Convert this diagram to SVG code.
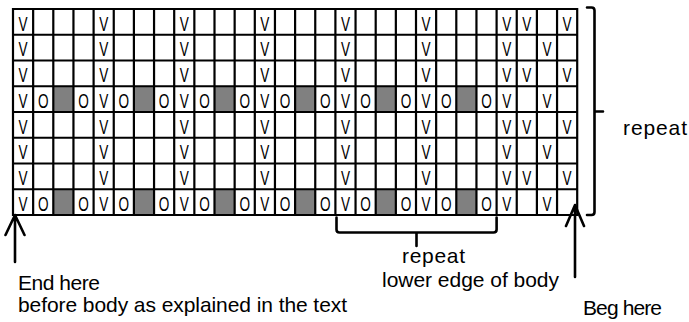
<svg xmlns="http://www.w3.org/2000/svg" width="689" height="322" viewBox="0 0 689 322">
<style>
.bg{fill:#ffffff}
.gray{fill:#808080}
.grid{fill:none;stroke:#000;stroke-width:2.2;stroke-linecap:square}
.cell{font-family:"Liberation Sans",Arial,sans-serif;font-size:20px;fill:#000;text-anchor:middle}
.lbl{font-family:"Liberation Sans",Arial,sans-serif;font-size:21px;fill:#000}
.ln{fill:none;stroke:#000;stroke-width:2.6;stroke-linecap:round;stroke-linejoin:round}
</style>
<rect class="bg" x="0" y="0" width="689" height="322"/>
<g id="chart">
  <g id="shaded-cells">
    <rect class="gray" x="53.3" y="86.25" width="20.15" height="25.75"/>
    <rect class="gray" x="133.9" y="86.25" width="20.15" height="25.75"/>
    <rect class="gray" x="214.5" y="86.25" width="20.15" height="25.75"/>
    <rect class="gray" x="295.1" y="86.25" width="20.15" height="25.75"/>
    <rect class="gray" x="375.7" y="86.25" width="20.15" height="25.75"/>
    <rect class="gray" x="456.3" y="86.25" width="20.15" height="25.75"/>
    <rect class="gray" x="53.3" y="189.25" width="20.15" height="25.75"/>
    <rect class="gray" x="133.9" y="189.25" width="20.15" height="25.75"/>
    <rect class="gray" x="214.5" y="189.25" width="20.15" height="25.75"/>
    <rect class="gray" x="295.1" y="189.25" width="20.15" height="25.75"/>
    <rect class="gray" x="375.7" y="189.25" width="20.15" height="25.75"/>
    <rect class="gray" x="456.3" y="189.25" width="20.15" height="25.75"/>
  </g>
  <path id="grid-lines" class="grid" d="M13 9H577.2M13 34.75H577.2M13 60.5H577.2M13 86.25H577.2M13 112H577.2M13 137.75H577.2M13 163.5H577.2M13 189.25H577.2M13 215H577.2
  M13 9V215M33.15 9V215M53.3 9V215M73.45 9V215M93.6 9V215M113.75 9V215M133.9 9V215M154.05 9V215M174.2 9V215M194.35 9V215M214.5 9V215M234.65 9V215M254.8 9V215M274.95 9V215M295.1 9V215M315.25 9V215M335.4 9V215M355.55 9V215M375.7 9V215M395.85 9V215M416 9V215M436.15 9V215M456.3 9V215M476.45 9V215M496.6 9V215M516.75 9V215M536.9 9V215M557.05 9V215M577.2 9V215"/>
  <g id="cell-symbols" transform="scale(0.68 1)">
    <g id="row1" transform="translate(0 30.5)">
      <text class="cell" x="33.94">V</text><text class="cell" x="152.47">V</text><text class="cell" x="271">V</text><text class="cell" x="389.53">V</text><text class="cell" x="508.06">V</text><text class="cell" x="626.59">V</text><text class="cell" x="745.12">V</text><text class="cell" x="774.75">V</text><text class="cell" x="834.01">V</text>
    </g>
    <g id="row2" transform="translate(0 56.25)">
      <text class="cell" x="33.94">V</text><text class="cell" x="152.47">V</text><text class="cell" x="271">V</text><text class="cell" x="389.53">V</text><text class="cell" x="508.06">V</text><text class="cell" x="626.59">V</text><text class="cell" x="745.12">V</text><text class="cell" x="804.38">V</text>
    </g>
    <g id="row3" transform="translate(0 82)">
      <text class="cell" x="33.94">V</text><text class="cell" x="152.47">V</text><text class="cell" x="271">V</text><text class="cell" x="389.53">V</text><text class="cell" x="508.06">V</text><text class="cell" x="626.59">V</text><text class="cell" x="745.12">V</text><text class="cell" x="774.75">V</text><text class="cell" x="834.01">V</text>
    </g>
    <g id="row4" transform="translate(0 107.75)">
      <text class="cell" x="33.94">V</text><text class="cell" x="63.57">O</text><text class="cell" x="122.84">O</text><text class="cell" x="152.47">V</text><text class="cell" x="182.1">O</text><text class="cell" x="241.37">O</text><text class="cell" x="271">V</text><text class="cell" x="300.63">O</text><text class="cell" x="359.9">O</text><text class="cell" x="389.53">V</text><text class="cell" x="419.16">O</text><text class="cell" x="478.43">O</text><text class="cell" x="508.06">V</text><text class="cell" x="537.69">O</text><text class="cell" x="596.96">O</text><text class="cell" x="626.59">V</text><text class="cell" x="656.22">O</text><text class="cell" x="715.49">O</text><text class="cell" x="745.12">V</text><text class="cell" x="804.38">V</text>
    </g>
    <g id="row5" transform="translate(0 133.5)">
      <text class="cell" x="33.94">V</text><text class="cell" x="152.47">V</text><text class="cell" x="271">V</text><text class="cell" x="389.53">V</text><text class="cell" x="508.06">V</text><text class="cell" x="626.59">V</text><text class="cell" x="745.12">V</text><text class="cell" x="774.75">V</text><text class="cell" x="834.01">V</text>
    </g>
    <g id="row6" transform="translate(0 159.25)">
      <text class="cell" x="33.94">V</text><text class="cell" x="152.47">V</text><text class="cell" x="271">V</text><text class="cell" x="389.53">V</text><text class="cell" x="508.06">V</text><text class="cell" x="626.59">V</text><text class="cell" x="745.12">V</text><text class="cell" x="804.38">V</text>
    </g>
    <g id="row7" transform="translate(0 185)">
      <text class="cell" x="33.94">V</text><text class="cell" x="152.47">V</text><text class="cell" x="271">V</text><text class="cell" x="389.53">V</text><text class="cell" x="508.06">V</text><text class="cell" x="626.59">V</text><text class="cell" x="745.12">V</text><text class="cell" x="774.75">V</text><text class="cell" x="834.01">V</text>
    </g>
    <g id="row8" transform="translate(0 210.75)">
      <text class="cell" x="33.94">V</text><text class="cell" x="63.57">O</text><text class="cell" x="122.84">O</text><text class="cell" x="152.47">V</text><text class="cell" x="182.1">O</text><text class="cell" x="241.37">O</text><text class="cell" x="271">V</text><text class="cell" x="300.63">O</text><text class="cell" x="359.9">O</text><text class="cell" x="389.53">V</text><text class="cell" x="419.16">O</text><text class="cell" x="478.43">O</text><text class="cell" x="508.06">V</text><text class="cell" x="537.69">O</text><text class="cell" x="596.96">O</text><text class="cell" x="626.59">V</text><text class="cell" x="656.22">O</text><text class="cell" x="715.49">O</text><text class="cell" x="745.12">V</text><text class="cell" x="804.38">V</text>
    </g>
  </g>
</g>
<g id="connectors">
  <path id="brace-right" class="ln" d="M587 7.5H591.5Q594.5 7.5 594.5 10.5V111.5M594.5 111.5H603M594.5 111.5V212Q594.5 215 591.5 215H587"/>
  <path id="brace-bottom" class="ln" d="M336.5 217.5V229.5Q336.5 232.5 339.5 232.5H493.5Q496.6 232.5 496.6 229.5V217.5M416.5 232.5V246"/>
  <path id="arrow-end" class="ln" d="M15 216V262M5.5 235L15 215L24.5 235"/>
  <path id="arrow-beg" class="ln" d="M575 206V277M566 226L575 205L584 226"/>
</g>
<g id="labels">
  <text class="lbl" x="623" y="135" textLength="64">repeat</text>
  <text class="lbl" x="402" y="263" textLength="63">repeat</text>
  <text class="lbl" x="382" y="287" textLength="177">lower edge of body</text>
  <text class="lbl" x="18" y="290" textLength="82">End here</text>
  <text class="lbl" x="18" y="311.5" textLength="329">before body as explained in the text</text>
  <text class="lbl" x="583" y="315" textLength="79">Beg here</text>
</g>
</svg>
